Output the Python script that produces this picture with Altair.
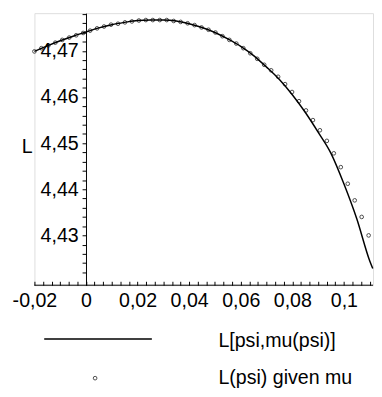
import altair as alt
import pandas as pd

# Curve L[psi, mu(psi)]
LINE_PSI = [-0.020, -0.015, -0.010, -0.005, 0.000, 0.005, 0.010, 0.015, 0.020, 0.025,
            0.030, 0.035, 0.040, 0.045, 0.050, 0.055, 0.060, 0.065, 0.070, 0.075,
            0.080, 0.085, 0.090, 0.095, 0.100, 0.105, 0.110, 0.1112]
LINE_L = [4.4699, 4.4711, 4.4722, 4.4732, 4.4741, 4.4750, 4.4757, 4.4762, 4.4766, 4.4767,
          4.4767, 4.4765, 4.4759, 4.4751, 4.4740, 4.4726, 4.4710, 4.4690, 4.4665, 4.4638,
          4.4605, 4.4567, 4.4524, 4.4478, 4.4412, 4.4336, 4.4245, 4.4228]

# Points L(psi) given mu
PT_PSI = [-0.0200, -0.0173, -0.0146, -0.0119, -0.0092, -0.0065, -0.0038, -0.0011,
          0.0016, 0.0043, 0.0070, 0.0097, 0.0124, 0.0151, 0.0178, 0.0205, 0.0232,
          0.0259, 0.0286, 0.0313, 0.0340, 0.0367, 0.0394, 0.0421, 0.0448, 0.0475,
          0.0502, 0.0529, 0.0556, 0.0583, 0.0610, 0.0637, 0.0664, 0.0691, 0.0718,
          0.0745, 0.0772, 0.0799, 0.0826, 0.0853, 0.0880, 0.0907, 0.0934, 0.0961,
          0.0988, 0.1015, 0.1042, 0.1069, 0.1096]
PT_L = [4.4699, 4.4706, 4.4712, 4.4718, 4.4724, 4.4729, 4.4734, 4.4739,
        4.4744, 4.4749, 4.4753, 4.4757, 4.4759, 4.4762, 4.4764, 4.4766, 4.4767,
        4.4767, 4.4767, 4.4767, 4.4765, 4.4763, 4.4760, 4.4756, 4.4751, 4.4746,
        4.4740, 4.4732, 4.4724, 4.4716, 4.4706, 4.4695, 4.4683, 4.4670, 4.4658,
        4.4644, 4.4628, 4.4611, 4.4591, 4.4571, 4.4550, 4.4528, 4.4505, 4.4478,
        4.4448, 4.4412, 4.4376, 4.4340, 4.4300]

LEGEND = ["L[psi,mu(psi)]", "L(psi) given mu"]
Y_TITLE = "L"

X_LABELS = [-0.02, 0, 0.02, 0.04, 0.06, 0.08, 0.1]
Y_LABELS = [4.43, 4.44, 4.45, 4.46, 4.47]
X_MINOR = 0.02 / 6
Y_MINOR = 0.002

X_DOMAIN = [-0.02, 0.1113]
Y_DOMAIN = [4.4192, 4.4782]

x_ticks = [round(X_LABELS[0] + k * X_MINOR, 6) for k in range(40)]
y_ticks = [round(4.422 + k * Y_MINOR, 4) for k in range(29)]

W, H = 346, 278
FONT = "Liberation Sans"
FS = 20

df = pd.concat([
    pd.DataFrame({"psi": LINE_PSI, "L": LINE_L, "series": LEGEND[0]}),
    pd.DataFrame({"psi": PT_PSI, "L": PT_L, "series": LEGEND[1]}),
], ignore_index=True)

x_enc = alt.X("psi:Q", scale=alt.Scale(domain=X_DOMAIN, nice=False, zero=False),
              axis=alt.Axis(values=x_ticks, title=None, grid=False, domain=False,
                            offset=-4, tickSize=4, tickColor="black", tickWidth=1,
                            labelFont=FONT, labelFontSize=FS, labelColor="black",
                            labelPadding=6, labelOverlap=False, labelFlush=False,
                            labelBound=False,
                            labelExpr="abs(datum.value/0.02 - round(datum.value/0.02)) < 0.01 ? replace(replace(format(datum.value, '.2~f'), '.', ','), '\u2212', '-') : ''"))
y_enc = alt.Y("L:Q", scale=alt.Scale(domain=Y_DOMAIN, nice=False, zero=False),
              axis=alt.Axis(values=y_ticks, title=None, grid=False, domain=True,
                            domainColor="black", domainWidth=1,
                            offset=-(0 - X_DOMAIN[0]) / (X_DOMAIN[1] - X_DOMAIN[0]) * W,
                            tickSize=4, tickColor="black", tickWidth=1,
                            labelFont=FONT, labelFontSize=FS, labelColor="black",
                            labelPadding=4, labelOverlap=False, labelFlush=False,
                            labelBound=False,
                            labelExpr="abs(datum.value*100 - round(datum.value*100)) < 0.01 ? replace(format(datum.value, '.2f'), '.', ',') : ''"))

base = alt.Chart(df).encode(x=x_enc, y=y_enc)
curve = base.transform_filter(alt.datum.series == LEGEND[0]).mark_line(
    color="black", strokeWidth=1.5, interpolate="monotone").encode(order="psi:Q")
points = base.transform_filter(alt.datum.series == LEGEND[1]).mark_point(
    shape="circle", filled=False, size=14, color="black", strokeWidth=1)

x_axis_line = alt.Chart(pd.DataFrame({"a": [0]})).mark_rule(color="black", strokeWidth=1).encode(
    x=alt.value(0), x2=alt.value(W), y=alt.value(H))

title_df = pd.DataFrame({"t": [Y_TITLE]})
y_title = alt.Chart(title_df).mark_text(font=FONT, fontSize=FS, color="black",
                                        align="left", baseline="middle").encode(
    text="t:N", x=alt.value(-13), y=alt.value(137))

leg1 = pd.DataFrame({"label": [LEGEND[0]]})
leg2 = pd.DataFrame({"label": [LEGEND[1]]})
leg_line = alt.Chart(leg1).mark_rule(color="black", strokeWidth=1.5).encode(
    x=alt.value(10), x2=alt.value(120), y=alt.value(333))
leg_text1 = alt.Chart(leg1).mark_text(font=FONT, fontSize=FS, color="black",
                                      align="left", baseline="middle").encode(
    text="label:N", x=alt.value(188), y=alt.value(335))
leg_pt = alt.Chart(leg2).mark_point(shape="circle", filled=False, size=14,
                                    color="black", strokeWidth=1).encode(
    x=alt.value(62), y=alt.value(373))
leg_text2 = alt.Chart(leg2).mark_text(font=FONT, fontSize=FS, color="black",
                                      align="left", baseline="middle").encode(
    text="label:N", x=alt.value(188), y=alt.value(373))

chart = alt.layer(curve, points, x_axis_line, y_title, leg_line, leg_text1, leg_pt, leg_text2).properties(
    width=W, height=H,
    autosize=alt.AutoSizeParams(type="none"),
    padding={"left": 27, "top": 1, "right": 1, "bottom": 110},
).configure_view(stroke=None).configure(background="white")

chart.save("out.html", embed_options={"renderer": "svg", "actions": False})
